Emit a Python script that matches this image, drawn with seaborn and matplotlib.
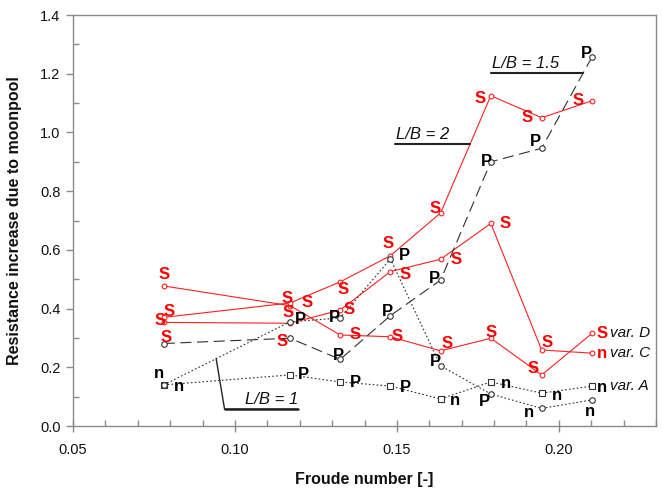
import numpy as np
import pandas as pd
import matplotlib
matplotlib.use("Agg")
import matplotlib.pyplot as plt
import seaborn as sns
from matplotlib.ticker import MultipleLocator, FormatStrFormatter

# ---------------- data ----------------
froude = [0.078, 0.117, 0.1325, 0.148, 0.1635, 0.179, 0.1947, 0.2103]

var_a = [0.140, 0.174, 0.150, 0.136, 0.092, 0.150, 0.112, 0.136]
var_a_modes = ["n", "P", "P", "P", "n", "n", "n", "n"]

lb1 = [0.140, 0.355, 0.368, 0.569, 0.205, 0.109, 0.060, 0.089]
lb1_modes = ["n", "P", "P", "P", "P", "P", "n", "n"]

lb15 = [0.281, 0.299, 0.227, 0.376, 0.497, 0.900, 0.946, 1.258]
lb15_modes = ["S", "S", "P", "P", "P", "P", "P", "P"]

lb2 = [0.370, 0.419, 0.491, 0.580, 0.726, 1.125, 1.050, 1.108]
lb2_modes = ["S", "S", "S", "S", "S", "S", "S", "S"]

var_c = [0.353, 0.350, 0.395, 0.526, 0.568, 0.690, 0.259, 0.248]
var_c_modes = ["S", "S", "S", "S", "S", "S", "S", "n"]

var_d = [0.477, 0.410, 0.310, 0.304, 0.256, 0.299, 0.174, 0.316]
var_d_modes = ["S", "S", "S", "S", "S", "S", "S", "S"]

x_ticks = [0.05, 0.10, 0.15, 0.20]
y_ticks = [0.0, 0.2, 0.4, 0.6, 0.8, 1.0, 1.2, 1.4]

# ---------------- layout (label offsets in pixels) ----------------
off_var_a = [(-5, 11), (13, 0), (15, -1), (15, -1), (14, -2), (15, -2), (15, -2), (10, -1)]
off_lb1 = [(15, -2), (10, 2), (-6, 0), (14, 3), (-5, 4), (-6, -7), (-13, -4), (-2, -12)]
off_lb15 = [(2, 6), (-8, -3), (-2, 4), (-3, 4), (-6, 2), (-4, 0), (-6, 7), (-6, 3)]
off_lb2 = [(5, 6), (17, 0), (3, -8), (-2, 12), (-6, 4), (-11, -3), (-15, 0), (-14, 0)]
off_var_c = [(-4, 2), (-2, 11), (9, 1), (15, -3), (15, 0), (14, 0), (5, 7), (10, 0)]
off_var_d = [(0, 11), (-3, 7), (15, 0), (7, 0), (6, 7), (0, 6), (-9, 6), (10, 0)]

RED = "#ff0000"
BLACK = "#000000"

sns.set_style("white")
plt.rcParams["font.family"] = ["Liberation Sans", "DejaVu Sans"]

fig = plt.figure(figsize=(6.62, 4.92), dpi=100)
ax = fig.add_axes([73 / 662, 1 - 426 / 492, (656 - 73) / 662, (426 - 15) / 492])

series = [
    # values, modes, offsets, color, marker, linestyle, ms, is_red
    (var_d, var_d_modes, off_var_d, RED, "o", "-", 3.4, True),
    (var_c, var_c_modes, off_var_c, RED, "o", "-", 3.4, True),
    (lb2, lb2_modes, off_lb2, RED, "o", "-", 3.4, True),
    (var_a, var_a_modes, off_var_a, BLACK, "s", (0, (1.5, 2.0)), 4.2, False),
    (lb1, lb1_modes, off_lb1, BLACK, "o", (0, (1.5, 2.0)), 4.0, False),
    (lb15, lb15_modes, off_lb15, BLACK, "o", (0, (10, 5)), 4.0, False),
]

for vals, modes, offs, col, mk, ls, ms, is_red in series:
    df = pd.DataFrame({"Fn": froude, "R": vals})
    line_col = "#ff2020" if is_red else "#303030"
    sns.lineplot(data=df, x="Fn", y="R", ax=ax, estimator=None, sort=False,
                 color=line_col, linestyle=ls, linewidth=0.8,
                 marker=mk, markersize=ms, markerfacecolor="white",
                 markeredgecolor=line_col, markeredgewidth=0.8, zorder=3)
    for xv, yv, m, (dx, dy) in zip(froude, vals, modes, offs):
        tc = RED if (is_red or m == "S") else BLACK
        ax.annotate(m, (xv, yv), xytext=(dx, dy), textcoords="offset pixels",
                    ha="center", va="center", fontsize=12, fontweight="bold",
                    color=tc, zorder=5)

# variant labels at the end of series
for vals, name in [(var_d, "var. D"), (var_c, "var. C"), (var_a, "var. A")]:
    ax.annotate(name, (froude[-1], vals[-1]), xytext=(18, 0), textcoords="offset pixels",
                ha="left", va="center", fontsize=11, fontstyle="italic", color="#111111")

# ---------------- L/B annotations ----------------
lc = "#222222"
# L/B = 1 : pointer to dotted series
px = 0.0942
py = np.interp(px, froude[:2], lb1[:2])
ux0, ux1, uy = 0.0968, 0.1194, 0.057
ax.plot([px, ux0, ux1], [py, uy, uy], color=lc, lw=1.0, zorder=4)
ax.plot([ux0, ux1], [uy, uy], color=lc, lw=1.8, zorder=4)
ax.annotate("L/B = 1", (ux1, uy), xytext=(0, 2), textcoords="offset pixels",
            ha="right", va="bottom", fontsize=12, fontstyle="italic", color="#111111")

# L/B = 2 : underline ending on red L/B=2 line
uy2 = 0.959
ex2 = np.interp(uy2, [lb2[4], lb2[5]], [froude[4], froude[5]])
ax.plot([0.1493, ex2], [uy2, uy2], color=lc, lw=1.5, zorder=4)
ax.annotate("L/B = 2", (0.1493, uy2), xytext=(1, 2), textcoords="offset pixels",
            ha="left", va="bottom", fontsize=12, fontstyle="italic", color="#111111")

# L/B = 1.5 : underline ending on dashed line
uy15 = 1.203
ex15 = np.interp(uy15, [lb15[6], lb15[7]], [froude[6], froude[7]])
ax.plot([0.1791, ex15], [uy15, uy15], color=lc, lw=1.5, zorder=4)
ax.annotate("L/B = 1.5", (0.1791, uy15), xytext=(1, 2), textcoords="offset pixels",
            ha="left", va="bottom", fontsize=12, fontstyle="italic", color="#111111")

# ---------------- axes ----------------
ax.set_xlim(0.05, 0.23)
ax.set_ylim(0.0, 1.4)
ax.set_xticks(x_ticks)
ax.set_yticks(y_ticks)
ax.xaxis.set_major_formatter(FormatStrFormatter("%.2f"))
ax.yaxis.set_major_formatter(FormatStrFormatter("%.1f"))
ax.xaxis.set_minor_locator(MultipleLocator(0.01))
ax.yaxis.set_minor_locator(MultipleLocator(0.1))

spine_col = "#8a8a8a"
for s in ax.spines.values():
    s.set_visible(True)
    s.set_color(spine_col)
    s.set_linewidth(1.0)

ax.tick_params(axis="x", which="major", direction="inout", length=8, width=1,
               color=spine_col, labelsize=10.5, labelcolor="#111111", pad=8)
ax.tick_params(axis="x", which="minor", direction="in", length=4, width=1, color=spine_col)
ax.tick_params(axis="y", which="major", direction="out", length=5, width=1,
               color=spine_col, labelsize=10.5, labelcolor="#111111", pad=4)
ax.tick_params(axis="y", which="minor", direction="in", length=4, width=1, color=spine_col)
ax.tick_params(bottom=True, left=True, top=False, right=False, which="both")

ax.set_xlabel("Froude number [-]", fontsize=11.5, fontweight="bold", color="#111111")
ax.set_ylabel("Resistance increase due to moonpool", fontsize=11.5, fontweight="bold", color="#111111")
ax.xaxis.set_label_coords(0.5, -0.112)
ax.yaxis.set_label_coords(-0.087, 0.5)

fig.savefig("out.png", dpi=100)
